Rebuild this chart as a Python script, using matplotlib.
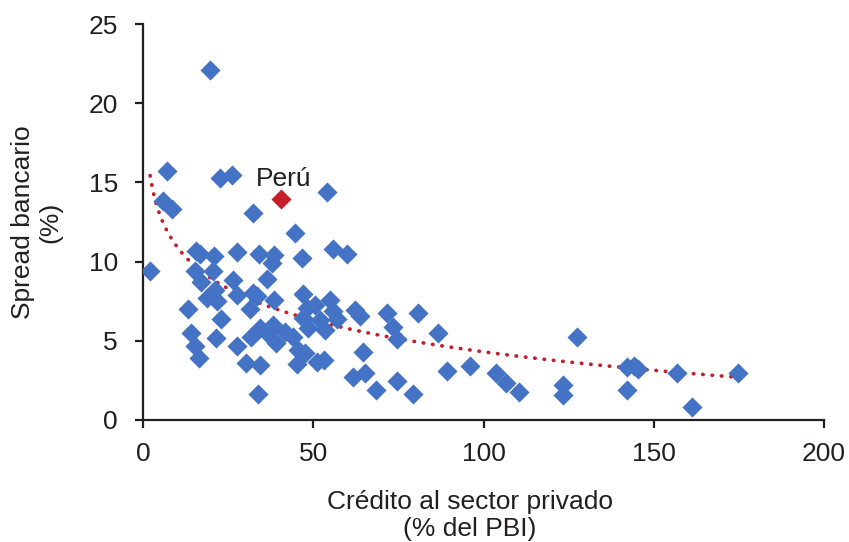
import numpy as np
import matplotlib.pyplot as plt

plt.rcParams['font.family'] = ['Liberation Sans', 'DejaVu Sans']

# credito al sector privado (% PBI) y spread bancario (%), paises
credito = [2.1, 5.8, 7.1, 8.4, 13.3, 14.1, 15.3, 15.3, 15.6, 16.5, 16.7, 17.0,
           18.9, 19.7, 20.6, 20.9, 21.1, 21.4, 21.8, 22.6, 22.8, 26.0, 26.5,
           27.7, 27.5, 27.7, 30.2,
           31.4, 31.6, 32.2, 32.4, 33.4, 33.9, 34.2, 34.4, 34.4, 36.5, 36.5,
           37.8, 38.3, 38.5, 38.5, 39.0, 41.7, 44.1, 44.6, 45.1, 45.6, 46.6,
           47.1, 47.1, 47.6, 48.1, 48.5, 50.5, 51.0, 52.0, 53.2, 53.5, 54.1,
           54.9, 55.9, 56.9, 55.9, 59.8, 61.8, 62.3, 63.7, 64.6, 65.2,
           68.4, 71.6, 73.5, 74.7, 74.7, 79.2, 80.9, 86.5, 89.2, 96.0, 103.7,
           106.6, 110.5, 123.4, 123.4, 127.4, 142.2, 144.2, 145.5, 142.2,
           156.7, 161.1, 174.8]
spread = [9.4, 13.8, 15.7, 13.3, 7.0, 5.5, 4.7, 9.4, 10.7, 3.9, 10.5, 8.7,
          7.7, 22.1, 9.4, 10.35, 8.2, 5.15, 7.5, 15.3, 6.35, 15.45, 8.85,
          10.6, 7.9, 4.7, 3.6,
          7.0, 5.25, 13.05, 8.0, 7.8, 1.65, 10.5, 3.5, 5.8, 8.88, 5.47,
          9.93, 6.0, 10.42, 7.6, 4.84, 5.58, 5.26, 11.83, 3.55, 4.42, 10.2,
          7.95, 6.42, 4.2, 7.05, 5.79, 7.26, 3.68, 6.3, 3.79, 5.7, 14.37,
          7.6, 6.9, 6.4, 10.77, 10.46, 2.69, 6.94, 6.57, 4.31, 2.99,
          1.89, 6.73, 5.85, 5.09, 2.46, 1.64, 6.73, 5.51, 3.11, 3.41, 2.99,
          2.31, 1.79, 2.21, 1.58, 5.26, 3.37, 3.43, 3.22, 1.89,
          2.94, 0.84, 2.99]

peru_credito = 40.4
peru_spread = 13.95

blue = '#4472C4'
red = '#C41F2A'
ink = '#231F20'

fig = plt.figure(figsize=(8.49, 5.42), dpi=100)
ax = fig.add_axes([0.1684, 0.2251, 0.8022, 0.7306])

ax.scatter(credito, spread, marker='D', s=105, color=blue, linewidths=0, zorder=3)
ax.scatter([peru_credito], [peru_spread], marker='D', s=105, color=red,
           linewidths=0, zorder=4)
ax.text(peru_credito + 1.0, 14.75, 'Perú', fontsize=19, ha='center',
        va='baseline', color=ink)

# tendencia logaritmica ajustada a los datos
xs = np.array(credito + [peru_credito])
ys = np.array(spread + [peru_spread])
b, a = np.polyfit(np.log(xs), ys, 1)
xt = np.linspace(xs.min(), xs.max(), 300)
ax.plot(xt, a + b * np.log(xt), color=red, lw=2.7,
        linestyle=(0, (0.1, 2.4)), dash_capstyle='round', zorder=2)

ax.set_xlim(0, 200)
ax.set_ylim(0, 25)
ax.set_xticks([0, 50, 100, 150, 200])
ax.set_yticks([0, 5, 10, 15, 20, 25])
for s in ['top', 'right']:
    ax.spines[s].set_visible(False)
for s in ['left', 'bottom']:
    ax.spines[s].set_linewidth(1.6)
    ax.spines[s].set_color(ink)
ax.tick_params(axis='both', length=6, width=1.6, color=ink,
               labelsize=19, labelcolor=ink)
ax.tick_params(axis='y', pad=12)
ax.tick_params(axis='x', pad=10)

ax.set_xlabel('Crédito al sector privado\n(% del PBI)', fontsize=19,
              color=ink, labelpad=17, linespacing=1.15)
ax.xaxis.label.set_x(0.48)
ax.set_ylabel('Spread bancario\n(%)', fontsize=19, color=ink,
              labelpad=19, linespacing=1.15)

fig.savefig('out.png', dpi=100)
